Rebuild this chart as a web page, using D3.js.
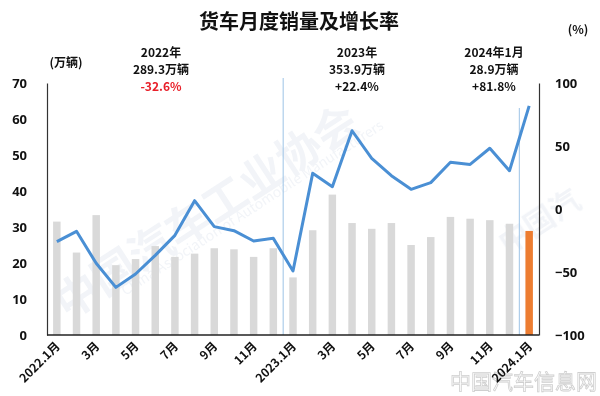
<!DOCTYPE html>
<html>
<head>
<meta charset="utf-8">
<script src="https://cdn.jsdelivr.net/npm/d3@7"></script>
<style>
  body { margin: 0; background: #fff; }
  text { font-family: "Noto Sans CJK SC", "Open Sans", sans-serif; }
</style>
</head>
<body>
<svg id="chart" width="600" height="396"></svg>
<script>
// months, 2022.1 -> 2024.1
var months = ["2022.1月","2月","3月","4月","5月","6月","7月","8月","9月","10月","11月","12月",
              "2023.1月","2月","3月","4月","5月","6月","7月","8月","9月","10月","11月","12月",
              "2024.1月"];
// monthly sales (万辆)
var sales = [31.5, 22.9, 33.3, 19.4, 21.1, 24.7, 21.7, 22.6, 24.1, 23.8, 21.7, 24.1,
             16.0, 29.1, 39.0, 31.1, 29.5, 31.1, 25.0, 27.2, 32.8, 32.3, 31.9, 30.9,
             28.9];
// year-on-year growth (%)
var growth = [-25.9, -17.7, -43.1, -62.2, -51.6, -36.8, -20.9, 6.6, -14.0, -17.2, -25.4, -23.3,
              -49.2, 28.3, 17.7, 62.1, 40.2, 26.4, 15.6, 20.9, 37.1, 35.4, 48.2, 30.4,
              81.8];
var leftTicks = [0, 10, 20, 30, 40, 50, 60, 70];
var rightTicks = [-100, -50, 0, 50, 100];
var xLabelIdx = [0, 2, 4, 6, 8, 10, 12, 14, 16, 18, 20, 22, 24];
var xLabelText = ["2022.1月","3月","5月","7月","9月","11月","2023.1月","3月","5月","7月","9月","11月","2024.1月"];

var svg = d3.select("#chart");
// plot box (note: "top" is taken by window.top)
var pLeft = 47, pRight = 539, pTop = 83, pBottom = 335;

var x = d3.scaleBand().domain(d3.range(months.length)).range([pLeft, pRight]).paddingInner(0.62).paddingOuter(0.31);
var yL = d3.scaleLinear().domain([0, 70]).range([pBottom, pTop]);
var yR = d3.scaleLinear().domain([-100, 100]).range([pBottom, pTop]);
function cx(i) { return x(i) + x.bandwidth() / 2; }

//watermark, very faint
var wm = svg.append("g").attr("opacity", 0.08);
wm.append("text").attr("transform", "translate(215,225) rotate(-33)")
  .attr("font-size", 44).attr("font-weight", "bold").attr("fill", "#5a78a8")
  .attr("text-anchor", "middle").text("中国汽车工业协会");
wm.append("text").attr("transform", "translate(255,212) rotate(-33)")
  .attr("font-size", 14).attr("fill", "#5a78a8")
  .attr("text-anchor", "middle").text("China Association of Automobile Manufacturers");
wm.append("text").attr("transform", "translate(545,230) rotate(-33)")
  .attr("font-size", 30).attr("font-weight", "bold").attr("fill", "#5a78a8")
  .attr("text-anchor", "middle").text("中国汽");
svg.append("text").attr("x", 597).attr("y", 389).attr("text-anchor", "end")
  .attr("font-size", 21).attr("fill", "none").attr("stroke", "#cfcfcf").attr("stroke-width", 0.8)
  .text("中国汽车信息网");

// bars
svg.append("g").selectAll("rect").data(sales).join("rect")
  .attr("x", function(d, i) { return x(i); })
  .attr("y", function(d) { return yL(d); })
  .attr("width", x.bandwidth())
  .attr("height", function(d) { return pBottom - yL(d); })
  .attr("fill", function(d, i) { return i == sales.length - 1 ? "#ed7d31" : "#d9d9d9"; });

// year separators, halfway between months
var step = x.step();
svg.append("line").attr("x1", cx(12) - step / 2).attr("x2", cx(12) - step / 2)
  .attr("y1", 78).attr("y2", pBottom).attr("stroke", "#9dc3e6").attr("stroke-width", 1);
svg.append("line").attr("x1", cx(24) - step / 2).attr("x2", cx(24) - step / 2)
  .attr("y1", 108).attr("y2", pBottom).attr("stroke", "#9dc3e6").attr("stroke-width", 1);

// growth line
var line = d3.line()
  .x(function(d, i) { return cx(i); })
  .y(function(d) { return yR(d); });
svg.append("path").datum(growth).attr("d", line)
  .attr("fill", "none").attr("stroke", "#4a8fd4").attr("stroke-width", 3)
  .attr("stroke-linejoin", "round");

// axes
var axL = svg.append("g").attr("transform", "translate(" + pLeft + ",0)")
  .call(d3.axisLeft(yL).tickValues(leftTicks).tickSize(0).tickPadding(20));
var axR = svg.append("g").attr("transform", "translate(" + pRight + ",0)")
  .call(d3.axisRight(yR).tickValues(rightTicks).tickSize(0).tickPadding(16));
[axL, axR].forEach(function(a) {
  a.select(".domain").attr("stroke", "#333").attr("stroke-width", 1.2);
  a.selectAll("text").attr("font-size", 13).attr("font-weight", "bold").attr("fill", "#111")
    .style("font-family", "'Open Sans', sans-serif");
});
svg.append("line").attr("x1", pLeft).attr("x2", pRight).attr("y1", pBottom).attr("y2", pBottom)
  .attr("stroke", "#222").attr("stroke-width", 1.5);

// x labels
svg.append("g").selectAll("text").data(xLabelIdx).join("text")
  .attr("transform", function(d) {
    return "translate(" + (cx(d) + 4) + "," + (pBottom + 12) + ") rotate(-45)";
  })
  .attr("text-anchor", "end")
  .attr("font-size", 12).attr("font-weight", "bold").attr("fill", "#111")
  .text(function(d, i) { return xLabelText[i]; });

// title and units
svg.append("text").attr("x", 299).attr("y", 29).attr("text-anchor", "middle")
  .attr("font-size", 20).attr("font-weight", "bold").attr("fill", "#111").text("货车月度销量及增长率");
svg.append("text").attr("x", 66).attr("y", 67).attr("text-anchor", "middle")
  .attr("font-size", 12).attr("font-weight", "bold").attr("fill", "#111").text("(万辆)");
svg.append("text").attr("x", 578).attr("y", 34).attr("text-anchor", "middle")
  .attr("font-size", 12).attr("font-weight", "bold").attr("fill", "#111").text("(%)");

// annotations
var notes = [
  { cx: 161, lines: ["2022年", "289.3万辆", "-32.6%"], last: "#e8202a" },
  { cx: 357, lines: ["2023年", "353.9万辆", "+22.4%"], last: "#111" },
  { cx: 494, lines: ["2024年1月", "28.9万辆", "+81.8%"], last: "#111" }
];
notes.forEach(function(n) {
  n.lines.forEach(function(t, j) {
    svg.append("text").attr("x", n.cx).attr("y", 57 + j * 17).attr("text-anchor", "middle")
      .attr("font-size", 12).attr("font-weight", "bold")
      .attr("fill", j == 2 ? n.last : "#111").text(t);
  });
});
</script>
</body>
</html>
